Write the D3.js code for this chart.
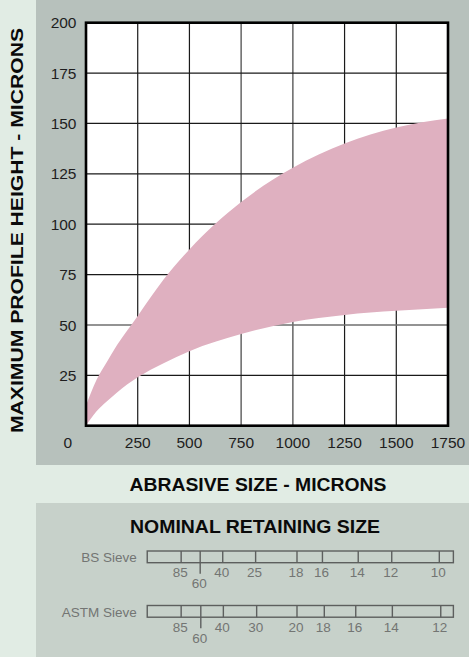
<!DOCTYPE html>
<html>
<head>
<meta charset="utf-8">
<script src="https://cdn.jsdelivr.net/npm/d3@7"></script>
<style>
  html, body { margin: 0; padding: 0; background: #e1ece4; }
  svg { display: block; }
  text { font-family: "Liberation Sans", Arial, Helvetica, sans-serif; }
</style>
</head>
<body>
<svg id="chart" width="469" height="657"></svg>
<script>
// Abrasive size (microns) against the range of maximum profile height (microns)
const abrasiveSize = [0, 50, 100, 150, 250, 375, 500, 750, 1000, 1250, 1500, 1750];
const profileUpper = [10, 22.5, 31.5, 40, 54.5, 72.5, 87.5, 111, 128, 140, 148, 152.5];
const profileLower = [0, 7, 12, 16.5, 24, 31, 37, 45.5, 51.5, 55, 57, 58.5];

const xTicks = [250, 500, 750, 1000, 1250, 1500, 1750];
const yTicks = [25, 50, 75, 100, 125, 150, 175, 200];

// Nominal retaining size scales, placed in microns along the abrasive size axis
const bsSieveLabels = ["85", "60", "40", "25", "18", "16", "14", "12", "10"];
const bsSieveSizes  = [460, 552, 661, 820, 1020, 1143, 1316, 1478, 1708];
const astmSieveLabels = ["85", "60", "40", "30", "20", "18", "16", "14", "12"];
const astmSieveSizes  = [460, 555, 664, 825, 1020, 1152, 1304, 1481, 1715];
const sieveExtent = [296, 1776];

const svg = d3.select("#chart");

// panels
svg.append("rect").attr("x", 36).attr("y", 0).attr("width", 433).attr("height", 465).attr("fill", "#b7c1bc");
svg.append("rect").attr("x", 36).attr("y", 503).attr("width", 433).attr("height", 154).attr("fill", "#c7d1ca");

const plot = { left: 86, right: 448, top: 22.7, bottom: 425.7 };
const x = d3.scaleLinear().domain([0, 1750]).range([plot.left, plot.right]);
const y = d3.scaleLinear().domain([0, 200]).range([plot.bottom, plot.top]);

svg.append("rect")
  .attr("x", plot.left).attr("y", plot.top)
  .attr("width", plot.right - plot.left).attr("height", plot.bottom - plot.top)
  .attr("fill", "#ffffff");

// grid
const softX = new Set([750, 1000]);
const softY = new Set([50]);
svg.append("g").selectAll("line").data(xTicks.slice(0, -1)).join("line")
  .attr("x1", d => x(d)).attr("x2", d => x(d))
  .attr("y1", plot.top).attr("y2", plot.bottom)
  .attr("stroke", d => softX.has(d) ? "#6f6f6f" : "#1a1a1a")
  .attr("stroke-width", d => softX.has(d) ? 1.6 : 1.2);
svg.append("g").selectAll("line").data(yTicks.slice(0, -1)).join("line")
  .attr("x1", plot.left).attr("x2", plot.right)
  .attr("y1", d => y(d)).attr("y2", d => y(d))
  .attr("stroke", d => softY.has(d) ? "#6f6f6f" : "#1a1a1a")
  .attr("stroke-width", d => softY.has(d) ? 1.6 : 1.2);

// profile band
svg.append("defs").append("clipPath").attr("id", "plotClip")
  .append("rect")
  .attr("x", plot.left).attr("y", plot.top)
  .attr("width", plot.right - plot.left).attr("height", plot.bottom - plot.top);

const band = d3.area()
  .x((d, i) => x(abrasiveSize[i]))
  .y0((d, i) => y(profileLower[i]))
  .y1((d, i) => y(profileUpper[i]))
  .curve(d3.curveMonotoneX);

svg.append("path")
  .datum(abrasiveSize)
  .attr("clip-path", "url(#plotClip)")
  .attr("d", band)
  .attr("fill", "#dfb0c0");

// frame
svg.append("rect")
  .attr("x", plot.left).attr("y", plot.top)
  .attr("width", plot.right - plot.left).attr("height", plot.bottom - plot.top)
  .attr("fill", "none").attr("stroke", "#000").attr("stroke-width", 2.6);

// axis labels
svg.append("g").selectAll("text").data(yTicks).join("text")
  .attr("x", 76.5).attr("y", d => y(d)).attr("dy", "0.36em")
  .attr("text-anchor", "end").attr("font-size", 15.5).attr("fill", "#1e1e1e")
  .text(d => d);
svg.append("g").selectAll("text").data(xTicks).join("text")
  .attr("x", d => x(d)).attr("y", 448.3)
  .attr("text-anchor", "middle").attr("font-size", 15.5).attr("fill", "#1e1e1e")
  .text(d => d);
svg.append("text").attr("x", 67.7).attr("y", 448.3)
  .attr("text-anchor", "middle").attr("font-size", 15.5).attr("fill", "#1e1e1e")
  .text("0");

// titles
svg.append("text")
  .attr("transform", "translate(23.3,230.5) rotate(-90)")
  .attr("text-anchor", "middle").attr("font-size", 17).attr("font-weight", "bold")
  .attr("textLength", 405).attr("lengthAdjust", "spacingAndGlyphs")
  .attr("fill", "#0a0a0a")
  .text("MAXIMUM PROFILE HEIGHT - MICRONS");
svg.append("text")
  .attr("x", 258).attr("y", 491)
  .attr("text-anchor", "middle").attr("font-size", 18.5).attr("font-weight", "bold")
  .attr("textLength", 257).attr("lengthAdjust", "spacingAndGlyphs")
  .attr("fill", "#0a0a0a")
  .text("ABRASIVE SIZE - MICRONS");
svg.append("text")
  .attr("x", 255).attr("y", 533.3)
  .attr("text-anchor", "middle").attr("font-size", 17.5).attr("font-weight", "bold")
  .attr("textLength", 250).attr("lengthAdjust", "spacingAndGlyphs")
  .attr("fill", "#0a0a0a")
  .text("NOMINAL RETAINING SIZE");

// sieve scales
function sieveScale(name, labels, sizes, top) {
  const g = svg.append("g");
  const h = 11.7;
  const stroke = "#5d5f5e";
  g.append("text").attr("x", 136.7).attr("y", top + h - 0.3)
    .attr("text-anchor", "end").attr("font-size", 13.5).attr("fill", "#737573")
    .text(name);
  g.append("rect")
    .attr("x", x(sieveExtent[0])).attr("y", top)
    .attr("width", x(sieveExtent[1]) - x(sieveExtent[0])).attr("height", h)
    .attr("fill", "none").attr("stroke", stroke).attr("stroke-width", 1.4);
  g.selectAll("line").data(sizes).join("line")
    .attr("x1", d => x(d)).attr("x2", d => x(d))
    .attr("y1", top).attr("y2", (d, i) => labels[i] === "60" ? top + h + 11 : top + h)
    .attr("stroke", stroke).attr("stroke-width", 1.4);
  g.selectAll("text.lbl").data(sizes).join("text").attr("class", "lbl")
    .attr("x", d => x(d) - 1)
    .attr("y", (d, i) => labels[i] === "60" ? top + 37.3 : top + 26.3)
    .attr("text-anchor", "middle").attr("font-size", 13.5).attr("fill", "#737573")
    .text((d, i) => labels[i]);
}
sieveScale("BS Sieve", bsSieveLabels, bsSieveSizes, 551);
sieveScale("ASTM Sieve", astmSieveLabels, astmSieveSizes, 605.5);
</script>
</body>
</html>
